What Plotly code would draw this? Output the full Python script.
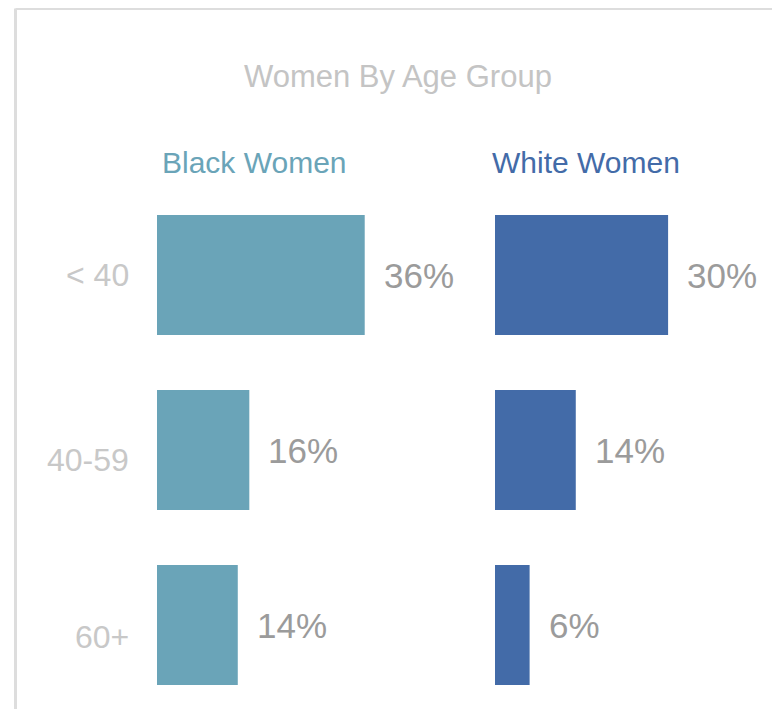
import plotly.graph_objects as go

title = "Women By Age Group"
age_groups = ["< 40", "40-59", "60+"]
series_names = ["Black Women", "White Women"]
black_women = [36, 16, 14]
white_women = [30, 14, 6]

colors = ["#6aa4b8", "#436ba8"]
FONT = "Liberation Sans, Arial, Helvetica, sans-serif"

W, H = 780, 709
OFF = 8  # page offset of the figure in the browser
TOP, BOT = 200 - OFF, 700 - OFF  # plot area in figure px
PH = BOT - TOP


def py(p):
    """screen px (y) -> paper y"""
    return (BOT - (p - OFF)) / PH


def px(p):
    """screen px (x) -> paper x"""
    return (p - OFF) / W


fig = go.Figure()
for i, (vals, ax) in enumerate([(black_women, "x"), (white_women, "x2")]):
    fig.add_trace(go.Bar(
        x=vals, y=list(range(len(age_groups))), orientation="h",
        marker=dict(color=colors[i], line=dict(width=0)),
        width=0.686, xaxis=ax, yaxis="y", showlegend=False, hoverinfo="x+y",
    ))
    for j, v in enumerate(vals):
        fig.add_annotation(
            x=v, y=j, xref=ax, yref="y", text=f"{v}%", showarrow=False,
            xanchor="left", yanchor="middle", xshift=17,
            font=dict(family=FONT, size=35, color="#9b9b9b"),
        )

# category labels (left of the bars), slightly offset downward like the original
label_yshift = [0, -10, -12]
for j, g in enumerate(age_groups):
    fig.add_annotation(
        x=px(131), y=j, xref="paper", yref="y", text=g.replace("<", "&lt;"),
        showarrow=False, xanchor="right", yanchor="middle", yshift=label_yshift[j],
        font=dict(family=FONT, size=32, color="#c8c8c8"),
    )

scale = 5.77  # px per percent
x1_dom = (157, 480)
x2_dom = (495, 788)

fig.update_layout(
    width=W, height=H,
    margin=dict(l=0, r=0, t=TOP, b=H - BOT),
    paper_bgcolor="white", plot_bgcolor="white",
    xaxis=dict(domain=[px(x1_dom[0]), px(x1_dom[1])],
               range=[0, (x1_dom[1] - x1_dom[0]) / scale],
               visible=False, fixedrange=True),
    xaxis2=dict(domain=[px(x2_dom[0]), px(x2_dom[1])],
                range=[0, (x2_dom[1] - x2_dom[0]) / scale],
                visible=False, anchor="y", fixedrange=True),
    yaxis=dict(range=[2.4286, -0.4286], showticklabels=False,
               showgrid=False, zeroline=False, showline=False,
               fixedrange=True),
    font=dict(family=FONT),
)

# title
fig.add_annotation(x=px(397.5), y=py(76), xref="paper", yref="paper",
                   text=title, showarrow=False, xanchor="center", yanchor="middle",
                   font=dict(family=FONT, size=31, color="#c4c4c4"))
# series headers
for name, cx, col in zip(series_names, [254, 585.5], colors):
    fig.add_annotation(x=px(cx), y=py(163), xref="paper", yref="paper",
                       text=name, showarrow=False, xanchor="center", yanchor="middle",
                       font=dict(family=FONT, size=30, color=col))

# frame lines (left and top)
fig.add_shape(type="line", xref="paper", yref="paper",
              x0=px(15.5), x1=1.05, y0=py(8.5), y1=py(8.5),
              line=dict(color="#dddddd", width=3))
fig.add_shape(type="line", xref="paper", yref="paper",
              x0=px(15.5), x1=px(15.5), y0=py(8.5), y1=-0.1,
              line=dict(color="#dddddd", width=3))

fig.write_html("out.html")
